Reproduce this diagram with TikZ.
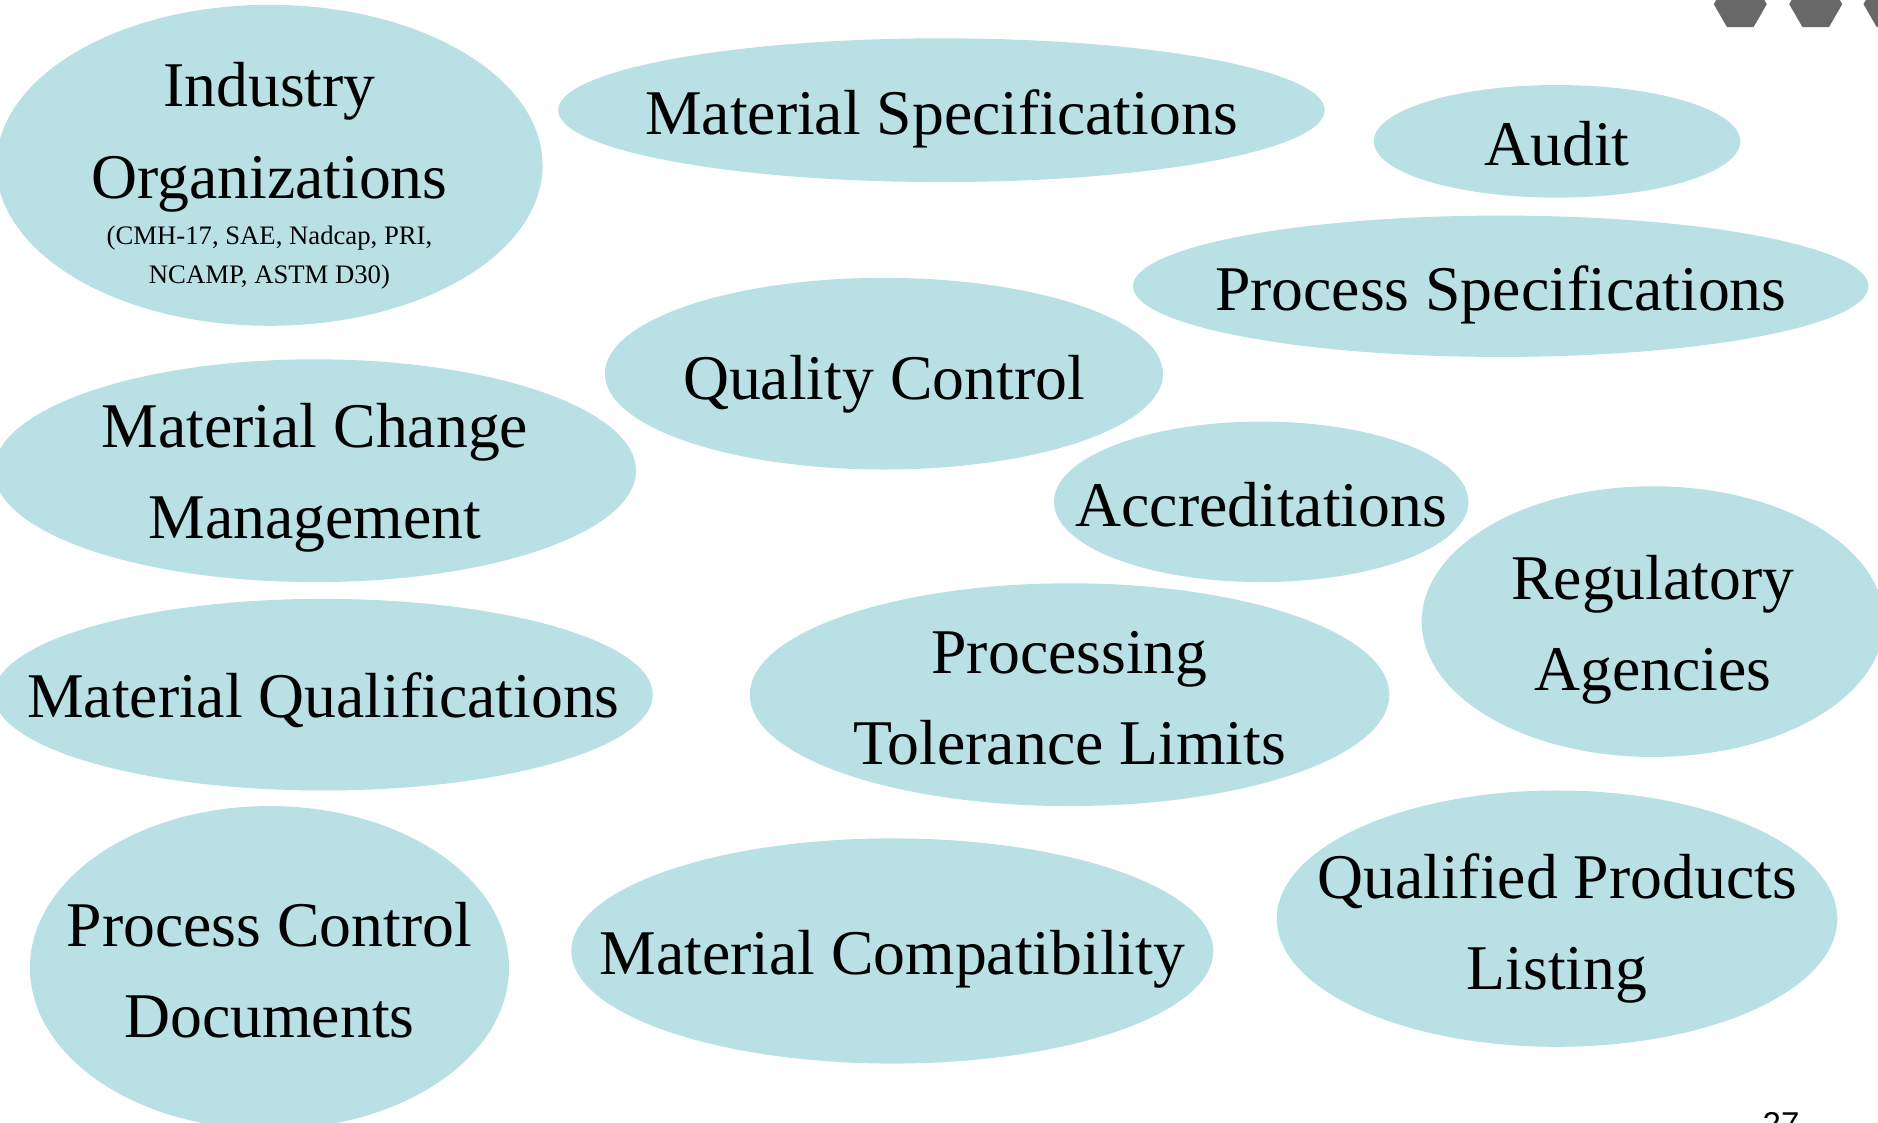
\documentclass[tikz,border=0pt]{standalone}
\usepackage{fontspec}
\setmainfont{Liberation Serif}
\newfontfamily\pagefont{Liberation Sans}
\usetikzlibrary{shapes.geometric}
\definecolor{bubblefill}{RGB}{185,224,228}
\definecolor{hexgray}{RGB}{104,104,104}
\tikzset{
  bubble/.style 2 args={ellipse, fill=bubblefill, inner sep=0pt, outer sep=0pt,
    minimum width=#1*2.3954pt, minimum height=#2*2.3954pt},
  bubbletext/.style={inner sep=0pt, align=center, text=black,
    font=\fontsize{63.7}{91.5}\selectfont},
  subnote/.style={inner sep=0pt, align=center, text=black,
    font=\fontsize{26.7}{38.3}\selectfont},
  hexmark/.style={regular polygon, regular polygon sides=6, fill=hexgray,
    minimum size=53pt, inner sep=0pt},
}
\begin{document}
\begin{tikzpicture}[x=1.1977pt, y=-1.1977pt]
\useasboundingbox (0,0) rectangle (1568,937);
\clip (0,0) rectangle (1568,937);

% header marks
\node[hexmark] (h1) at (1453,3.5) {};
\node[hexmark] (h2) at (1516,3.5) {};
\node[hexmark] (h3) at (1578,3.5) {};

% bubbles
\node[bubble={228}{134}] (ind)   at (225,138)  {};
\node[bubble={320}{60}]  (mspec) at (786,92)   {};
\node[bubble={153}{47}]  (audit) at (1300,118) {};
\node[bubble={307}{59}]  (pspec) at (1253,239) {};
\node[bubble={233}{80}]  (qc)    at (738,312)  {};
\node[bubble={268}{93}]  (mcm)   at (263,393)  {};
\node[bubble={173}{67}]  (acc)   at (1053,419) {};
\node[bubble={193}{113}] (reg)   at (1380,519) {};
\node[bubble={275}{80}]  (mq)    at (270,580)  {};
\node[bubble={267}{93}]  (ptl)   at (893,580)  {};
\node[bubble={200}{135}] (pcd)   at (225,808)  {};
\node[bubble={268}{94}]  (mc)    at (745,794)  {};
\node[bubble={234}{107}] (qpl)   at (1300,767) {};

% bubble texts
\node[bubbletext] (indT)   at (225,114.5) {Industry\\Organizations};
\node[subnote]    (indS)   at (225,215)   {(CMH-17, SAE, Nadcap, PRI,\\NCAMP, ASTM D30)};
\node[bubbletext] (mspecT) at (786,99)    {Material Specifications};
\node[bubbletext] (auditT) at (1300,120)  {Audit};
\node[bubbletext] (pspecT) at (1253,246)  {Process Specifications};
\node[bubbletext] (qcT)    at (738,321)   {Quality Control};
\node[bubbletext] (mcmT)   at (263,399)   {Material Change\\Management};
\node[bubbletext] (accT)   at (1053,421)  {Accreditations};
\node[bubbletext] (regT)   at (1380,526)  {Regulatory\\Agencies};
\node[bubbletext] (mqT)    at (270,585)   {Material Qualifications};
\node[bubbletext] (ptlT)   at (893,583)   {Processing\\Tolerance Limits};
\node[bubbletext] (pcdT)   at (225,810)   {Process Control\\Documents};
\node[bubbletext] (mcT)    at (745,801)   {Material Compatibility};
\node[bubbletext] (qplT)   at (1300,775)  {Qualified Products\\Listing};

% page number
\node[anchor=base, inner sep=0pt, font=\pagefont\fontsize{33}{33}\selectfont] (pg) at (1487,948) {27};
\end{tikzpicture}
\end{document}
